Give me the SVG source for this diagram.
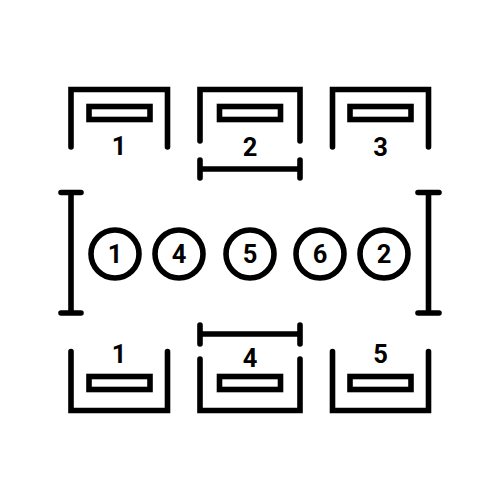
<svg xmlns="http://www.w3.org/2000/svg" width="500" height="500" viewBox="0 0 500 500">
<style>
.s{fill:none;stroke:#000;stroke-width:5.6;stroke-linecap:round;stroke-linejoin:miter}
.t{font-family:Roboto,"Liberation Sans",sans-serif;font-weight:bold;font-size:25.5px;fill:#000;text-anchor:middle}
</style>
<rect width="500" height="500" fill="#fff"/>
<g id="top-box-1">
<path class="s" d="M71,147V89.5H167.5V147"/>
<rect class="s" x="89" y="106.5" width="61" height="13"/>
<text class="t" x="119" y="155">1</text>
</g>
<g id="top-box-2">
<path class="s" d="M200,141V89.5H300V141"/>
<rect class="s" x="219.5" y="106.5" width="61" height="13"/>
<text class="t" x="250" y="155.5">2</text>
</g>
<g id="top-box-3">
<path class="s" d="M332.5,147V89.5H428.5V147"/>
<rect class="s" x="350" y="106.5" width="61" height="13"/>
<text class="t" x="380.5" y="155.5">3</text>
</g>
<g id="top-bar">
<path class="s" d="M200,160V178M300,160V178M200,169H300"/>
</g>
<g id="left-bracket">
<path class="s" d="M71,192.5V313M61,192.5H81M61,313H81"/>
</g>
<g id="right-bracket">
<path class="s" d="M428.5,192.5V313M418,192.5H439M418,313H439"/>
</g>
<g id="circle-1"><circle class="s" cx="115" cy="254" r="24"/><text class="t" x="115" y="263">1</text></g>
<g id="circle-4"><circle class="s" cx="179" cy="254" r="24"/><text class="t" x="179" y="263">4</text></g>
<g id="circle-5"><circle class="s" cx="250" cy="254" r="24"/><text class="t" x="250" y="263">5</text></g>
<g id="circle-6"><circle class="s" cx="320" cy="254" r="24"/><text class="t" x="320" y="263">6</text></g>
<g id="circle-2"><circle class="s" cx="384" cy="254" r="24"/><text class="t" x="384" y="263">2</text></g>
<g id="bottom-bar">
<path class="s" d="M200,325V344M300,325V344M200,334H300"/>
</g>
<g id="bottom-box-1">
<path class="s" d="M71,351.5V410.5H167.5V351.5"/>
<rect class="s" x="89" y="376.5" width="61" height="13"/>
<text class="t" x="119" y="362.5">1</text>
</g>
<g id="bottom-box-4">
<path class="s" d="M200,359V410.5H300V359"/>
<rect class="s" x="219.5" y="376.5" width="61" height="13"/>
<text class="t" x="250" y="367">4</text>
</g>
<g id="bottom-box-5">
<path class="s" d="M332.5,351.5V410.5H428.5V351.5"/>
<rect class="s" x="350" y="376.5" width="61" height="13"/>
<text class="t" x="380.5" y="363">5</text>
</g>
</svg>
